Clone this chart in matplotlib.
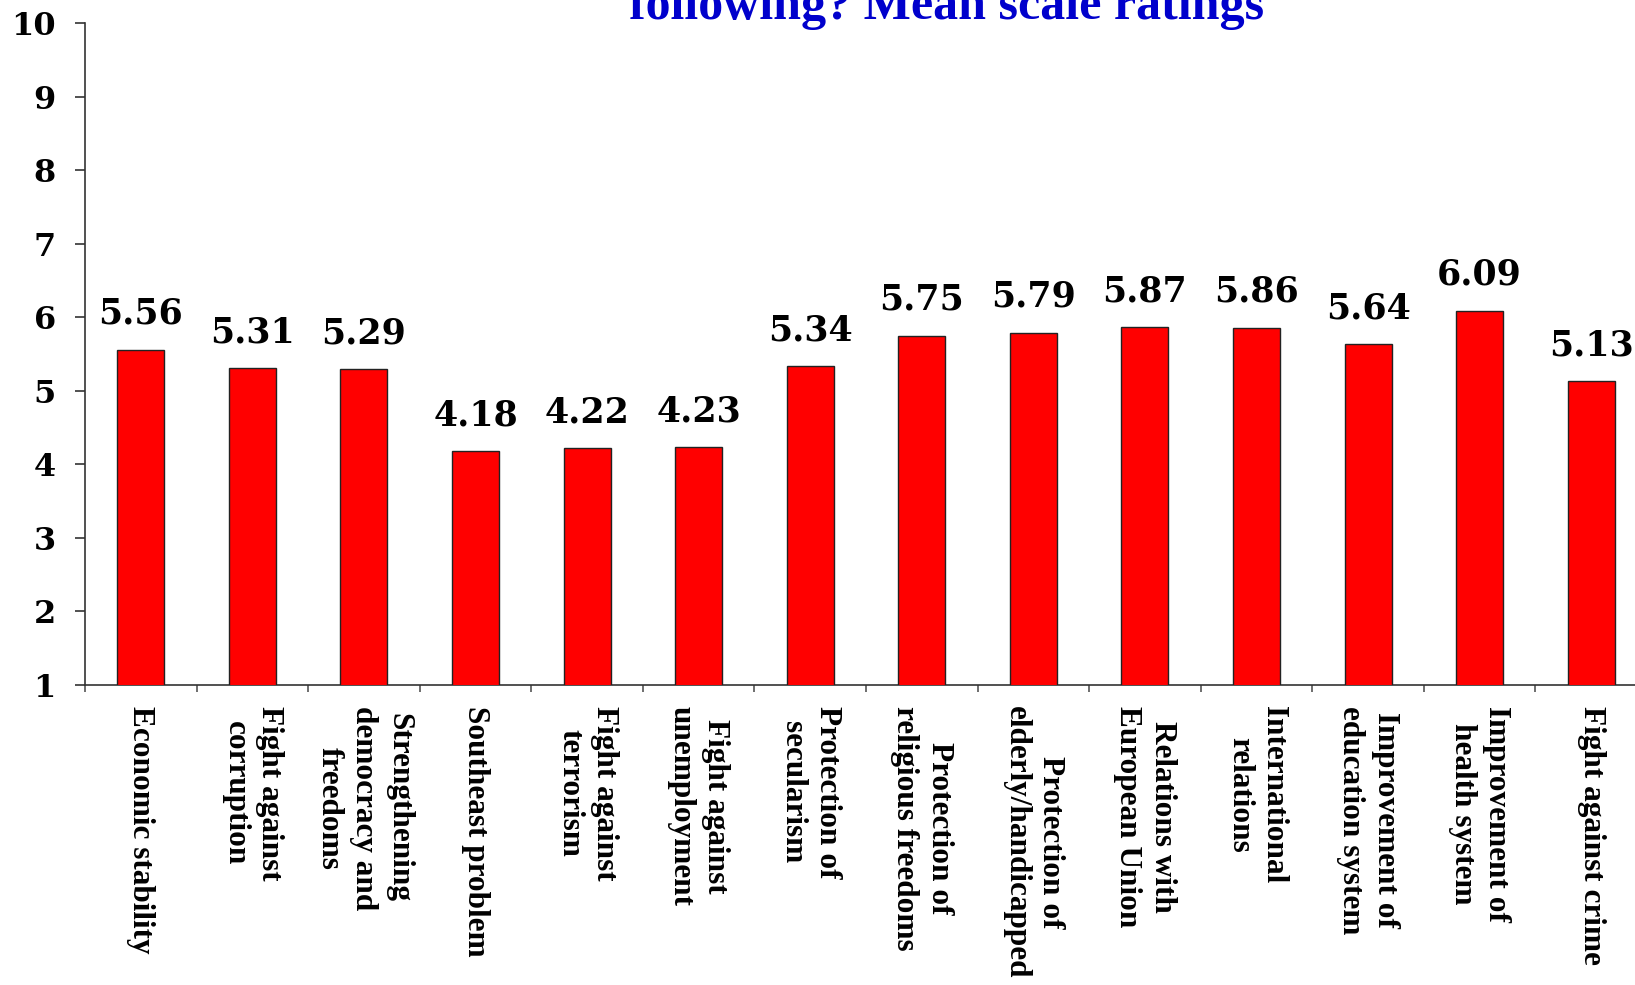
import matplotlib
matplotlib.use("Agg")
import matplotlib.pyplot as plt
import numpy as np

categories = [
    "Economic stability",
    "Fight against\ncorruption",
    "Strengthening\ndemocracy and\nfreedoms",
    "Southeast problem",
    "Fight against\nterrorism",
    "Fight against\nunemployment",
    "Protection of\nsecularism",
    "Protection of\nreligious freedoms",
    "Protection of\nelderly/handicapped",
    "Relations with\nEuropean Union",
    "International\nrelations",
    "Improvement of\neducation system",
    "Improvement of\nhealth system",
    "Fight against crime",
]
values = [5.56, 5.31, 5.29, 4.18, 4.22, 4.23, 5.34, 5.75, 5.79, 5.87, 5.86, 5.64, 6.09, 5.13]
value_labels = ["5.56", "5.31", "5.29", "4.18", "4.22", "4.23", "5.34", "5.75",
                "5.79", "5.87", "5.86", "5.64", "6.09", "5.13"]
yticks = [1, 2, 3, 4, 5, 6, 7, 8, 9, 10]
title = "following? Mean scale ratings"

W, H = 1635, 985
fig = plt.figure(figsize=(W / 100, H / 100), dpi=100)
ax = fig.add_axes([85 / W, 300 / H, 1562 / W, 662 / H])

x = np.arange(len(categories))
ax.bar(x, values, width=0.42, color="#FF0000", edgecolor="#222222", linewidth=1.0, zorder=3)

ax.set_xlim(-0.5, len(categories) - 0.5)
ax.set_ylim(1, 10)

for s in ["top", "right"]:
    ax.spines[s].set_visible(False)
for s in ["left", "bottom"]:
    ax.spines[s].set_color("#333333")
    ax.spines[s].set_linewidth(1.2)

ax.set_yticks(yticks)
ax.set_yticklabels([str(v) for v in yticks], fontfamily="DejaVu Serif",
                   fontweight="bold", fontsize=23)
ax.tick_params(axis="y", length=7, width=1.2, color="#333333", pad=14)

ax.set_xticks(x)
ax.set_xticklabels(categories, rotation=-90, ha="center", va="top",
                   multialignment="center", fontfamily="Liberation Serif",
                   fontweight="bold", fontsize=22.5, linespacing=1.25)
ax.tick_params(axis="x", which="major", length=0, pad=15)
ax.set_xticks(np.arange(-0.5, len(categories), 1.0), minor=True)
ax.tick_params(axis="x", which="minor", length=5, width=1.2, color="#555555")

for xi, v, lab in zip(x, values, value_labels):
    ax.annotate(lab, (xi, v), xytext=(0, 18.5), textcoords="offset points",
                ha="center", va="baseline", fontfamily="DejaVu Serif",
                fontweight="bold", fontsize=25, color="black", annotation_clip=False)

fig.text(947 / W, 1 - 19 / H, title, ha="center", va="baseline",
         fontfamily="Liberation Serif", fontweight="bold", fontsize=36, color="#0000CC")

fig.savefig("out.png", dpi=100)
